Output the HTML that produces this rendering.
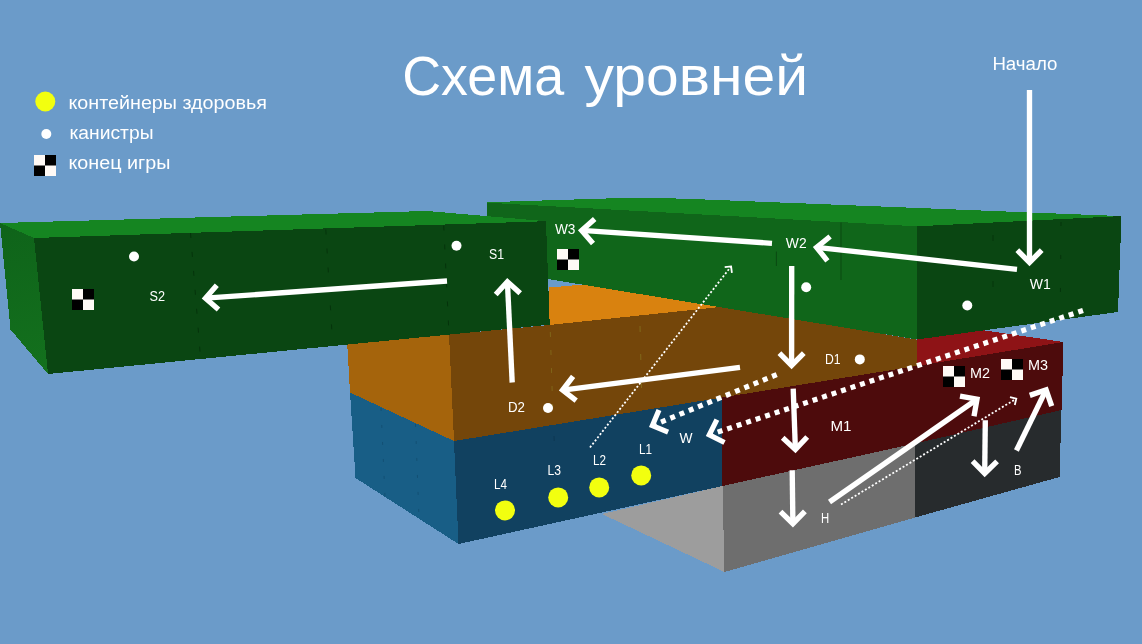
<!DOCTYPE html>
<html lang="ru"><head><meta charset="utf-8"><title>Схема уровней</title>
<style>
html,body{margin:0;padding:0;background:#6b9bc9;overflow:hidden}
svg{display:block;will-change:transform}
</style></head><body>
<svg width="1142" height="644" viewBox="0 0 1142 644">
<rect width="1142" height="644" fill="#6b9bc9"/>
<g shape-rendering="crispEdges">
<polygon points="549,287.5 590,284 720,307 549,325" fill="#d9820f"/>
<polygon points="347,340 449,330 454,441 350,392.5" fill="#a5640c"/>
<polygon points="449,334.5 549,325 720,307 916.5,339.5 916.5,366 454,441" fill="#74460a"/>
<polygon points="350,392.5 454,441 458.5,544 355.5,478" fill="#185e86"/>
<polygon points="454,441 722,397.5 722.5,486 458.5,544" fill="#114160"/>
<polygon points="916.5,335 984,330.3 1063.5,342 916.5,366" fill="#8e1316"/>
<polygon points="722,397.5 916.5,366 1063.5,342 1061.5,410 916,443.5 722.5,486" fill="#4d0b0c"/>
<polygon points="602,514 722.5,486 724.5,572" fill="#9d9d9d"/>
<polygon points="722.5,486 915,443.5 915,517.5 724.5,572" fill="#6e6e6e"/>
<polygon points="915,443.5 1061.5,410 1059.5,477 915,517.5" fill="#272b2d"/>
<polygon points="487,202.2 610,198.4 648,197.7 690,198.9 1121.5,216.1 917,226.3 487,202.7" fill="#158521"/>
<polygon points="487,202.7 917,226.3 917,339.5 487,269" fill="#10661a"/>
<polygon points="917,226.3 1121.5,216.1 1118,312 917,339.5" fill="#0a4612"/>
<polygon points="0,223 427,211 546,221.2 34,238" fill="#158521"/>
<defs><linearGradient id="lg" gradientUnits="userSpaceOnUse" x1="5" y1="230" x2="45" y2="365"><stop offset="0" stop-color="#0f641a"/><stop offset="1" stop-color="#13701d"/></linearGradient></defs>
<polygon points="0,223 34,238 48,374 10.5,329.5" fill="url(#lg)"/>
<polygon points="34,238 546,221.2 549.7,324.7 48,374" fill="#0a4612"/>
</g>
<line x1="190.5" y1="233" x2="200.2" y2="354" stroke="#04300a" stroke-width="1" stroke-dasharray="5 14" stroke-dashoffset="0" opacity="0.85"/>
<line x1="325.8" y1="229.5" x2="332.3" y2="338.5" stroke="#04300a" stroke-width="1" stroke-dasharray="5 14" stroke-dashoffset="0" opacity="0.85"/>
<line x1="443.7" y1="225.5" x2="449" y2="334.5" stroke="#04300a" stroke-width="1" stroke-dasharray="5 14" stroke-dashoffset="0" opacity="0.85"/>
<line x1="841" y1="222.5" x2="841" y2="280" stroke="#083d0f" stroke-width="1" stroke-dasharray="60 10" stroke-dashoffset="0" opacity="0.7"/>
<line x1="776.4" y1="251.5" x2="776.4" y2="266" stroke="#083d0f" stroke-width="1" stroke-dasharray="20 5" stroke-dashoffset="0" opacity="0.7"/>
<line x1="993" y1="235" x2="993" y2="300" stroke="#04300a" stroke-width="1" stroke-dasharray="6 40" stroke-dashoffset="0" opacity="0.8"/>
<line x1="1061" y1="222" x2="1060.4" y2="300" stroke="#04300a" stroke-width="1" stroke-dasharray="4 29" stroke-dashoffset="0" opacity="0.8"/>
<line x1="550.3" y1="332" x2="553" y2="418" stroke="#8f8a2a" stroke-width="1" stroke-dasharray="5 13" stroke-dashoffset="0" opacity="0.45"/>
<line x1="640" y1="326" x2="642" y2="408" stroke="#8f8a2a" stroke-width="1" stroke-dasharray="6 22" stroke-dashoffset="0" opacity="0.5"/>
<line x1="381" y1="408" x2="385" y2="497" stroke="#0d3f5e" stroke-width="1" stroke-dasharray="3 14" stroke-dashoffset="0" opacity="0.45"/>
<line x1="415.5" y1="424" x2="419" y2="518" stroke="#0d3f5e" stroke-width="1" stroke-dasharray="3 14" stroke-dashoffset="0" opacity="0.45"/>
<line x1="554" y1="436" x2="557.5" y2="522" stroke="#0a2d45" stroke-width="1" stroke-dasharray="5 25" stroke-dashoffset="0" opacity="0.5"/>
<circle cx="45.3" cy="101.5" r="10" fill="#f2ff0f"/>
<circle cx="46.3" cy="134" r="5" fill="#fff"/>
<g><rect x="34" y="155" width="22" height="21" fill="#fffaf6"/><rect x="45" y="155" width="11" height="10.5" fill="#000"/><rect x="34" y="165.5" width="11" height="10.5" fill="#000"/></g>
<g><rect x="72" y="289" width="22" height="21" fill="#fffaf6"/><rect x="83" y="289" width="11" height="10.5" fill="#000"/><rect x="72" y="299.5" width="11" height="10.5" fill="#000"/></g>
<g><rect x="557" y="249" width="22" height="21" fill="#fffaf6"/><rect x="568" y="249" width="11" height="10.5" fill="#000"/><rect x="557" y="259.5" width="11" height="10.5" fill="#000"/></g>
<g><rect x="943" y="366" width="22" height="21" fill="#fffaf6"/><rect x="954" y="366" width="11" height="10.5" fill="#000"/><rect x="943" y="376.5" width="11" height="10.5" fill="#000"/></g>
<g><rect x="1001" y="359" width="22" height="21" fill="#fffaf6"/><rect x="1012" y="359" width="11" height="10.5" fill="#000"/><rect x="1001" y="369.5" width="11" height="10.5" fill="#000"/></g>
<circle cx="134" cy="256.5" r="5" fill="#fff"/>
<circle cx="456.5" cy="245.7" r="5" fill="#fff"/>
<circle cx="548" cy="408" r="5" fill="#fff"/>
<circle cx="806.2" cy="287.3" r="5" fill="#fff"/>
<circle cx="967.3" cy="305.5" r="5" fill="#fff"/>
<circle cx="859.8" cy="359.4" r="5" fill="#fff"/>
<circle cx="505" cy="510.4" r="10" fill="#f2ff0f"/>
<circle cx="558.2" cy="497.4" r="10" fill="#f2ff0f"/>
<circle cx="599.2" cy="487.4" r="10" fill="#f2ff0f"/>
<circle cx="641.2" cy="475.4" r="10" fill="#f2ff0f"/>
<line x1="1029.5" y1="90.0" x2="1029.5" y2="262.4" stroke="#fff" stroke-width="5.35"/><polyline points="1041.7,250.2 1029.5,262.4 1017.3,250.2" fill="none" stroke="#fff" stroke-width="5.35" stroke-miterlimit="10"/>
<line x1="1017.0" y1="269.3" x2="816.6" y2="247.3" stroke="#fff" stroke-width="5.35"/><polyline points="827.4,260.8 816.6,247.3 830.1,236.5" fill="none" stroke="#fff" stroke-width="5.35" stroke-miterlimit="10"/>
<line x1="772.0" y1="243.3" x2="581.7" y2="230.4" stroke="#fff" stroke-width="5.35"/><polyline points="593.0,243.4 581.7,230.4 594.7,219.0" fill="none" stroke="#fff" stroke-width="5.35" stroke-miterlimit="10"/>
<line x1="447.0" y1="281.0" x2="205.5" y2="298.2" stroke="#fff" stroke-width="5.35"/><polyline points="218.5,309.6 205.5,298.2 216.8,285.2" fill="none" stroke="#fff" stroke-width="5.35" stroke-miterlimit="10"/>
<line x1="512.2" y1="382.5" x2="507.4" y2="281.7" stroke="#fff" stroke-width="5.35"/><polyline points="495.7,294.5 507.4,281.7 520.2,293.3" fill="none" stroke="#fff" stroke-width="5.35" stroke-miterlimit="10"/>
<line x1="740.0" y1="367.3" x2="562.6" y2="390.1" stroke="#fff" stroke-width="5.35"/><polyline points="576.2,400.7 562.6,390.1 573.1,376.4" fill="none" stroke="#fff" stroke-width="5.35" stroke-miterlimit="10"/>
<line x1="791.7" y1="266.0" x2="791.6" y2="365.4" stroke="#fff" stroke-width="5.35"/><polyline points="803.8,353.2 791.6,365.4 779.4,353.2" fill="none" stroke="#fff" stroke-width="5.35" stroke-miterlimit="10"/>
<line x1="793.2" y1="388.7" x2="795.4" y2="449.6" stroke="#fff" stroke-width="5.35"/><polyline points="807.2,437.0 795.4,449.6 782.7,437.8" fill="none" stroke="#fff" stroke-width="5.35" stroke-miterlimit="10"/>
<line x1="792.2" y1="470.3" x2="792.9" y2="523.7" stroke="#fff" stroke-width="5.35"/><polyline points="804.9,511.3 792.9,523.7 780.5,511.6" fill="none" stroke="#fff" stroke-width="5.35" stroke-miterlimit="10"/>
<line x1="829.5" y1="502.0" x2="977.0" y2="399.2" stroke="#fff" stroke-width="5.35"/><polyline points="960.0,396.1 977.0,399.2 974.0,416.2" fill="none" stroke="#fff" stroke-width="5.35" stroke-miterlimit="10"/>
<line x1="985.3" y1="420.3" x2="984.7" y2="473.4" stroke="#fff" stroke-width="5.35"/><polyline points="997.1,461.3 984.7,473.4 972.6,461.1" fill="none" stroke="#fff" stroke-width="5.35" stroke-miterlimit="10"/>
<line x1="1016.4" y1="450.5" x2="1046.1" y2="389.8" stroke="#fff" stroke-width="5.35"/><polyline points="1029.8,395.4 1046.1,389.8 1051.7,406.2" fill="none" stroke="#fff" stroke-width="5.35" stroke-miterlimit="10"/>
<line x1="1083.0" y1="310.5" x2="709.3" y2="434.9" stroke="#fff" stroke-width="5.2" stroke-dasharray="5 5"/><polyline points="724.5,442.5 709.3,434.9 716.9,419.7" fill="none" stroke="#fff" stroke-width="5.2" stroke-miterlimit="10"/>
<line x1="776.7" y1="374.6" x2="652.4" y2="425.6" stroke="#fff" stroke-width="5.2" stroke-dasharray="5 5"/><polyline points="668.1,432.2 652.4,425.6 659.0,409.9" fill="none" stroke="#fff" stroke-width="5.2" stroke-miterlimit="10"/>
<line x1="590.0" y1="447.5" x2="731.1" y2="266.4" stroke="#fff" stroke-width="1.8" stroke-dasharray="2 2"/><polyline points="724.7,267.2 731.1,266.4 731.9,272.9" fill="none" stroke="#fff" stroke-width="1.8" stroke-miterlimit="10"/>
<line x1="841.0" y1="504.5" x2="1016.3" y2="398.7" stroke="#fff" stroke-width="1.8" stroke-dasharray="2 2"/><polyline points="1010.0,397.1 1016.3,398.7 1014.8,405.0" fill="none" stroke="#fff" stroke-width="1.8" stroke-miterlimit="10"/>
<g fill="#fff" opacity="0.999" font-family="'Liberation Sans', Arial, sans-serif"><text y="95.2" font-size="55"><tspan x="402.2" textLength="162" lengthAdjust="spacingAndGlyphs">Схема</tspan> <tspan x="584.6" textLength="223.5" lengthAdjust="spacingAndGlyphs">уровней</tspan></text><text x="68.5" y="108.6" font-size="18" textLength="198.4" lengthAdjust="spacingAndGlyphs" text-anchor="start">контейнеры здоровья</text><text x="69.5" y="138.6" font-size="18" textLength="84" lengthAdjust="spacingAndGlyphs" text-anchor="start">канистры</text><text x="68.5" y="168.6" font-size="18" textLength="102" lengthAdjust="spacingAndGlyphs" text-anchor="start">конец игры</text><text x="992.4" y="70.1" font-size="18.8" textLength="65" lengthAdjust="spacingAndGlyphs" text-anchor="start">Начало</text><text x="149.5" y="301" font-size="14" textLength="15.5" lengthAdjust="spacingAndGlyphs" text-anchor="start">S2</text><text x="489" y="259" font-size="14" textLength="15" lengthAdjust="spacingAndGlyphs" text-anchor="start">S1</text><text x="554.9" y="233.5" font-size="14" textLength="20.5" lengthAdjust="spacingAndGlyphs" text-anchor="start">W3</text><text x="785.8" y="247.6" font-size="14" textLength="20.8" lengthAdjust="spacingAndGlyphs" text-anchor="start">W2</text><text x="1029.7" y="289" font-size="14" textLength="21" lengthAdjust="spacingAndGlyphs" text-anchor="start">W1</text><text x="508" y="412" font-size="14" textLength="17" lengthAdjust="spacingAndGlyphs" text-anchor="start">D2</text><text x="824.9" y="364.3" font-size="14" textLength="15.6" lengthAdjust="spacingAndGlyphs" text-anchor="start">D1</text><text x="830.4" y="431.2" font-size="14" textLength="21" lengthAdjust="spacingAndGlyphs" text-anchor="start">M1</text><text x="970" y="378" font-size="14" textLength="20" lengthAdjust="spacingAndGlyphs" text-anchor="start">M2</text><text x="1028" y="370" font-size="14" textLength="20" lengthAdjust="spacingAndGlyphs" text-anchor="start">M3</text><text x="639" y="454" font-size="14" textLength="13" lengthAdjust="spacingAndGlyphs" text-anchor="start">L1</text><text x="593" y="465" font-size="14" textLength="13" lengthAdjust="spacingAndGlyphs" text-anchor="start">L2</text><text x="547.5" y="475" font-size="14" textLength="13.5" lengthAdjust="spacingAndGlyphs" text-anchor="start">L3</text><text x="494" y="489" font-size="14" textLength="13" lengthAdjust="spacingAndGlyphs" text-anchor="start">L4</text><text x="679.5" y="443" font-size="14" textLength="13" lengthAdjust="spacingAndGlyphs" text-anchor="start">W</text><text x="821" y="522.5" font-size="14" textLength="8.2" lengthAdjust="spacingAndGlyphs" text-anchor="start">H</text><text x="1014" y="474.8" font-size="14" textLength="7.5" lengthAdjust="spacingAndGlyphs" text-anchor="start">B</text></g>
</svg>
</body></html>
